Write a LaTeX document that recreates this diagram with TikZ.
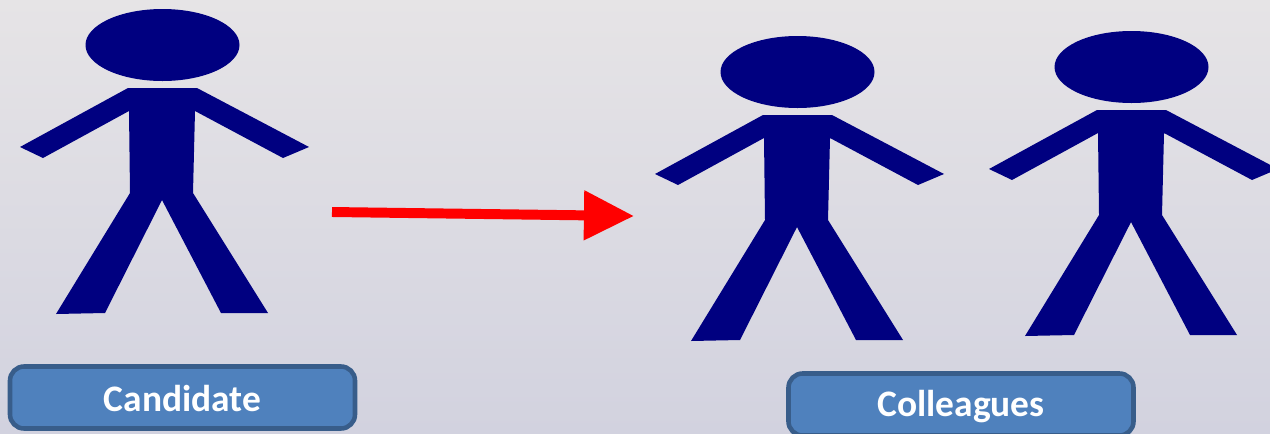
\documentclass[tikz,border=0pt]{standalone}
\usepackage{fontspec}
\setmainfont{Carlito}
\usetikzlibrary{arrows.meta}

\definecolor{figblue}{HTML}{000080}
\definecolor{boxfill}{HTML}{4F81BD}
\definecolor{boxline}{HTML}{385D8A}
\definecolor{backtop}{HTML}{E6E4E6}
\definecolor{backbot}{HTML}{D2D2DF}

\tikzset{
  labelbox/.style={draw=boxline, fill=boxfill, line width=2.6pt, rounded corners=8pt,
    minimum width=345*0.02cm, minimum height=62*0.02cm, inner sep=0pt, text depth=4pt,
    text=white, font=\fontsize{21.3}{25}\selectfont\bfseries},
  figure/.style={fill=figblue, draw=none}
}

\newcommand{\stickfigure}[2]{
  \begin{scope}[shift={(#1,#2)}]
    \fill[figure] (162.5,45) ellipse [x radius=77, y radius=36];
    \fill[figure] (128,88) -- (197,88) -- (309,147) -- (283,158) -- (195,111) -- (193,193)
      -- (268,313) -- (221,313) -- (162,200) -- (105,313) -- (56,314) -- (130,193)
      -- (129,111) -- (43,158) -- (20,147) -- cycle;
  \end{scope}
}

\begin{document}
\begin{tikzpicture}[x=0.02cm, y=-0.02cm]

  \useasboundingbox (0,0) rectangle (1270,433);
  \clip (0,0) rectangle (1270,433);

  \shade[top color=backtop, bottom color=backbot] (0,0) rectangle (1270,433);

  \stickfigure{0}{0}
  \stickfigure{635}{27}
  \stickfigure{969}{22}

  % arrow between the groups
  \coordinate (from) at (332,212);
  \coordinate (to) at (634,216);
  \draw[red, line width=5.67pt, -{Triangle[length=28.5pt, width=27pt]}] (from) -- (to);

  \node[labelbox, text height=20pt] (candidate) at (182.5,397.5) {Candidate};
  \node[labelbox, text height=17.5pt] (colleagues) at (961,404.5) {Colleagues};

\end{tikzpicture}
\end{document}
